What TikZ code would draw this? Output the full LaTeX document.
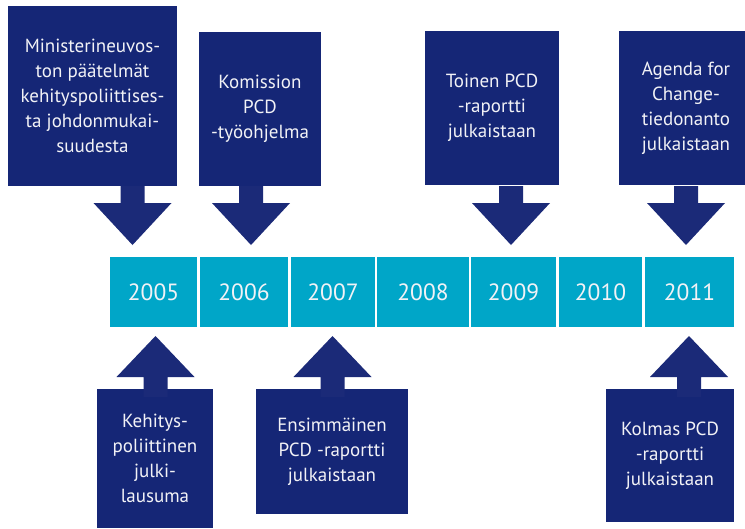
\documentclass[tikz,border=0pt]{standalone}
\usepackage{fontspec}
\setmainfont{PT Sans}
\definecolor{boxblue}{RGB}{21,38,118}
\definecolor{arrblue}{RGB}{27,42,120}
\definecolor{yearcyan}{RGB}{0,166,200}
\definecolor{txtwhite}{RGB}{242,242,246}
\tikzset{
  evbox/.style={fill=boxblue, draw=none, inner sep=0pt, align=center, text=txtwhite,
     font=\fontsize{19}{25}\selectfont},
  yearcell/.style={fill=yearcyan, draw=none, inner sep=0pt, minimum height=70pt, text=txtwhite,
     font=\fontsize{23.5}{26}\selectfont},
  downarr/.pic={\fill[arrblue] (-12,0) -- (12,0) -- (12,17) -- (39,17) -- (0,59) -- (-39,17) -- (-12,17) -- cycle;},
  uparr/.pic={\fill[arrblue] (-12,0) -- (12,0) -- (12,-20) -- (39,-20) -- (0,-61) -- (-39,-20) -- (-12,-20) -- cycle;}
}
\begin{document}
\begin{tikzpicture}[x=1pt,y=-1pt]
\useasboundingbox (0,0) rectangle (745,528);
\fill[white] (0,0) rectangle (745,528);
% timeline cells
\node[yearcell, minimum width=87pt] (c2005) at (153.5,292) {2005};
\node[yearcell, minimum width=88pt] (c2006) at (244,292) {2006};
\node[yearcell, minimum width=84pt] (c2007) at (333,292) {2007};
\node[yearcell, minimum width=92pt] (c2008) at (423,292) {2008};
\node[yearcell, minimum width=85pt] (c2009) at (513.5,292) {2009};
\node[yearcell, minimum width=83pt] (c2010) at (600.5,292) {2010};
\node[yearcell, minimum width=89pt] (c2011) at (689.5,292) {2011};
% upper boxes
\node[evbox, minimum width=169pt, minimum height=180pt] (b1) at (92.5,96)
  {Ministerineuvos-\\ton päätelmät\\kehityspoliittises-\\ta johdonmukai-\\suudesta};
\node[evbox, minimum width=122pt, minimum height=154pt] (b2) at (260,109)
  {Komission\\PCD\\-työohjelma};
\node[evbox, minimum width=134pt, minimum height=154pt] (b3) at (492,108)
  {Toinen PCD\\-raportti\\julkaistaan};
\node[evbox, minimum width=126pt, minimum height=154pt] (b4) at (682,108)
  {\hspace*{8pt}Agenda for\\\hspace*{8pt}Change-\\\hspace*{8pt}tiedonanto\\\hspace*{8pt}julkaistaan};
% lower boxes
\node[evbox, minimum width=116pt, minimum height=139pt] (b5) at (155,458.5)
  {Kehitys-\\poliittinen\\julki-\\lausuma};
\node[evbox, minimum width=152pt, minimum height=125pt] (b6) at (332,451.5)
  {Ensimmäinen\\PCD -raportti\\julkaistaan};
\node[evbox, minimum width=128pt, minimum height=133pt] (b7) at (670,455.5)
  {Kolmas PCD\\-raportti\\julkaistaan};
% arrows
\pic at (132.5,186) {downarr};
\pic at (251,186) {downarr};
\pic at (511,186) {downarr};
\pic at (686,186) {downarr};
\pic at (155.5,397) {uparr};
\pic at (332.5,397) {uparr};
\pic at (689,397) {uparr};
\end{tikzpicture}
\end{document}
